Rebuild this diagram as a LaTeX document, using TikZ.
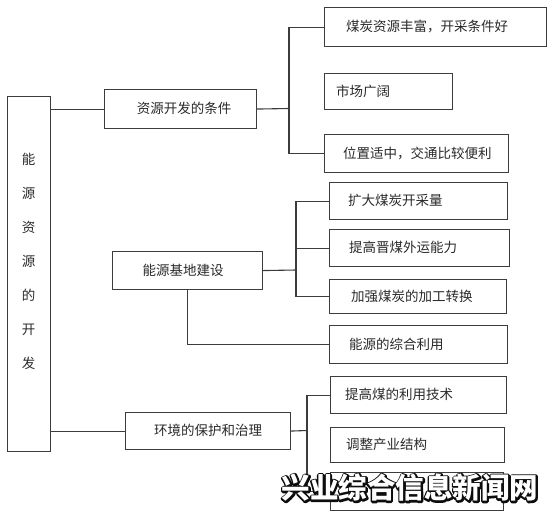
\documentclass[tikz,border=0pt]{standalone}
\usepackage{fontspec}
\newfontfamily\cjk{Noto Sans CJK SC}
\definecolor{linec}{HTML}{3C3C3C}
\definecolor{txtc}{HTML}{2A2A2A}
\tikzset{
  bx/.style={draw=linec, line width=1.1pt, rectangle, inner sep=0pt, anchor=north west, fill=white},
  lbl/.style={font=\cjk\fontsize{13.5}{16}\selectfont, text=txtc, inner sep=0pt},
  conn/.style={draw=linec, line width=1.1pt},
  wm/.style={font=\cjk\bfseries\fontsize{28.5}{30}\selectfont, inner sep=0pt}
}
\begin{document}
\begin{tikzpicture}[x=1pt, y=-1pt]
\useasboundingbox[fill=white] (0,0) rectangle (553,517);
% left column
\node[bx, minimum width=43, minimum height=355] (L) at (7,96) {};
\node[lbl, align=center, font=\cjk\fontsize{13.5}{34}\selectfont] (Lt) at (28.5,261.5) {能\\源\\资\\源\\的\\开\\发};
% group A
\node[bx, minimum width=152, minimum height=39] (A) at (104,89) {};
\node[lbl] (At) at (184,108.5) {资源开发的条件};
\node[bx, minimum width=222, minimum height=39] (a1) at (324,7) {};
\node[lbl, anchor=west] (a1t) at (346,26.5) {煤炭资源丰富，开采条件好};
\node[bx, minimum width=128, minimum height=36] (a2) at (324,73) {};
\node[lbl, anchor=west] (a2t) at (336,91) {市场广阔};
\node[bx, minimum width=184, minimum height=38] (a3) at (324,134) {};
\node[lbl, anchor=west] (a3t) at (343,153) {位置适中，交通比较便利};
% group B
\node[bx, minimum width=150, minimum height=38] (B) at (112,251) {};
\node[lbl] (Bt) at (183,270) {能源基地建设};
\node[bx, minimum width=178, minimum height=37] (b1) at (329,182) {};
\node[lbl, anchor=west] (b1t) at (348,200.5) {扩大煤炭开采量};
\node[bx, minimum width=180, minimum height=37] (b2) at (329,229) {};
\node[lbl, anchor=west] (b2t) at (349,247.5) {提高晋煤外运能力};
\node[bx, minimum width=177, minimum height=34] (b3) at (329,279) {};
\node[lbl, anchor=west] (b3t) at (351,296) {加强煤炭的加工转换};
\node[bx, minimum width=178, minimum height=38] (b4) at (329,325) {};
\node[lbl, anchor=west] (b4t) at (349,344) {能源的综合利用};
% group C
\node[bx, minimum width=165, minimum height=37] (C) at (125,412) {};
\node[lbl] (Ct) at (208,430.5) {环境的保护和治理};
\node[bx, minimum width=176, minimum height=37] (c1) at (330,376) {};
\node[lbl, anchor=west] (c1t) at (345,394.5) {提高煤的利用技术};
\node[bx, minimum width=174, minimum height=35] (c2) at (330,427) {};
\node[lbl, anchor=west] (c2t) at (346,444.5) {调整产业结构};
\node[bx, minimum width=173, minimum height=38] (c3) at (330,472) {};
% connectors
\coordinate (ja) at (289,108.5);
\coordinate (jb) at (296,270);
\coordinate (jc) at (307,430.5);
\draw[conn] (L.east |- A.west) -- (A.west);
\draw[conn] (A.east) -- (ja);
\draw[conn] (a1.west) -| (ja) |- (a3.west);
\draw[conn] (B.east) -- (jb);
\draw[conn] (b1.west) -| (jb) |- (b3.west);
\draw[conn] (jb |- b2.west) -- (b2.west);
\draw[conn] (B.south) |- (b4.west);
\draw[conn] (L.east |- C.west) -- (C.west);
\draw[conn] (C.east) -- (jc);
\draw[conn] (c1.west) -| (jc) |- (c3.west);
% watermark: dark stroked glyphs, then white glyphs on top
\node[wm, text=black] (wmo) at (410,488) {\special{pdf:literal 2 Tr 3.4 w 1 j 0.05 0.05 0.05 RG}兴业综合信息新闻网\special{pdf:literal 0 Tr}};
\node[wm, text=white] (wm) at (410,488) {兴业综合信息新闻网};
\end{tikzpicture}
\end{document}
